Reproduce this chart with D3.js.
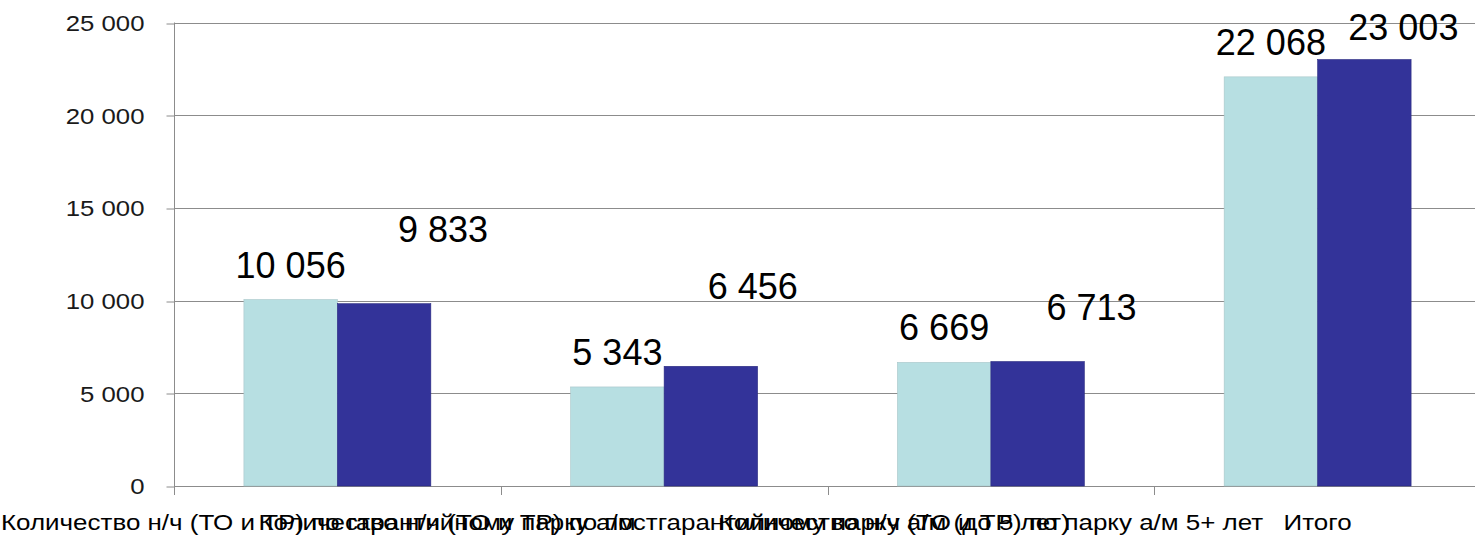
<!DOCTYPE html>
<html>
<head>
<meta charset="utf-8">
<script src="https://cdn.jsdelivr.net/npm/d3@7"></script>
<style>
  body { margin: 0; background: #fff; }
  svg { display: block; font-family: "Liberation Sans", Arial, sans-serif; }
</style>
</head>
<body>
<div></div>
<script>
const categories = [
    "Количество н/ч (ТО и ТР) по гарантийному парку а/м",
    "Количество н/ч (ТО и ТР) по постгарантийному парку а/м (до 5 лет)",
    "Количество н/ч (ТО и ТР) по парку а/м 5+ лет",
    "Итого"
];
const seriesNames = ["Ряд 1", "Ряд 2"];
const series1 = [10056, 5343, 6669, 22068];
const series2 = [9833, 6456, 6713, 23003];
const yTicks = [0, 5000, 10000, 15000, 20000, 25000];

// hand-placed data labels of the dark series (layout only)
const darkLabelNudge = [[59, -40], [42, -45], [54, -20], [39, 2]];

const W = 1475, H = 539;
const plotLeft = 174, plotRight = 1481, plotTop = 22.5, plotBottom = 486;
const colors = ["#b7dfe2", "#333399"];
const stretch = 1.18; // the original text is a little wider than Liberation Sans

const fmt = v => d3.format(",")(v).replace(/,/g, " ");

const svg = d3.select('div')
    .append('svg')
    .attr('width', W)
    .attr('height', H)
    .attr('viewBox', `0 0 ${W} ${H}`);

const x = d3.scaleBand()
    .domain(categories)
    .range([plotLeft, plotRight])
    .paddingInner(0)
    .paddingOuter(0);

const xs = d3.scaleBand()
    .domain([0, 1])
    .range([0, x.bandwidth()])
    .paddingOuter(0.748)
    .paddingInner(0);

const y = d3.scaleLinear()
    .domain([0, 25000])
    .range([plotBottom, plotTop]);

// gridlines
svg.append('g')
    .selectAll('line')
    .data(yTicks)
    .join('line')
    .attr('x1', plotLeft)
    .attr('x2', plotRight)
    .attr('y1', d => Math.round(y(d)) + 0.5)
    .attr('y2', d => Math.round(y(d)) + 0.5)
    .attr('stroke', '#8c8c8c')
    .attr('stroke-width', 1);

// y axis
const yAxis = svg.append('g')
    .attr('transform', `translate(${plotLeft + 0.5},0)`)
    .call(d3.axisLeft(y).tickValues(yTicks).tickSize(8).tickFormat(fmt));
yAxis.select('.domain').remove();
yAxis.selectAll('.tick line').attr('stroke', '#8c8c8c')
    .attr('transform', d => `translate(0,${Math.round(y(d)) + 0.5 - y(d)})`);
yAxis.selectAll('.tick text')
    .attr('x', 0)
    .attr('dy', '0.34em')
    .attr('transform', 'translate(-30,0) scale(1.12,1)')
    .attr('fill', '#1a1a1a')
    .style('font-size', '23px')
    .style('font-family', '"Liberation Sans", Arial, sans-serif');

svg.append('line')
    .attr('x1', plotLeft + 0.5).attr('x2', plotLeft + 0.5)
    .attr('y1', plotTop).attr('y2', plotBottom + 7)
    .attr('stroke', '#8c8c8c');

// x axis baseline + ticks at category boundaries
svg.append('line')
    .attr('x1', plotLeft).attr('x2', plotRight)
    .attr('y1', plotBottom + 0.5).attr('y2', plotBottom + 0.5)
    .attr('stroke', '#8c8c8c');

svg.append('g')
    .selectAll('line')
    .data(categories)
    .join('line')
    .attr('x1', d => Math.round(x(d)) + 0.5)
    .attr('x2', d => Math.round(x(d)) + 0.5)
    .attr('y1', plotBottom)
    .attr('y2', plotBottom + 9)
    .attr('stroke', '#8c8c8c');

// bars
const data = categories.map((c, i) => ({ cat: c, i, vals: [series1[i], series2[i]] }));

const groups = svg.append('g')
    .selectAll('g')
    .data(data)
    .join('g')
    .attr('transform', d => `translate(${x(d.cat)},0)`);

groups.selectAll('rect')
    .data(d => d.vals.map((v, s) => ({ v, s })))
    .join('rect')
    .attr('x', d => xs(d.s))
    .attr('y', d => y(d.v))
    .attr('width', xs.bandwidth())
    .attr('height', d => plotBottom - y(d.v))
    .attr('fill', d => colors[d.s])
    .attr('stroke', d => d.s === 0 ? '#a9c6c9' : '#2a2a80')
    .attr('stroke-width', 0.6);

// data labels
groups.selectAll('text')
    .data(d => d.vals.map((v, s) => ({ v, s, i: d.i })))
    .join('text')
    .attr('x', d => xs(d.s) + xs.bandwidth() / 2 + (d.s === 1 ? darkLabelNudge[d.i][0] : 0))
    .attr('y', d => y(d.v) - 22 + (d.s === 1 ? darkLabelNudge[d.i][1] : 0))
    .attr('text-anchor', 'middle')
    .attr('fill', '#000')
    .style('font-size', '36px')
    .text(d => fmt(d.v));

// category labels (overlapping, as in the original)
svg.append('g')
    .selectAll('text')
    .data(categories)
    .join('text')
    .attr('transform', (d, i) =>
        `translate(${i === 0 ? 1 : x(d) + x.bandwidth() / 2},530) scale(${stretch},1)`)
    .attr('text-anchor', (d, i) => i === 0 ? 'start' : 'middle')
    .attr('fill', '#000')
    .style('font-size', '22px')
    .text(d => d);
</script>
</body>
</html>
